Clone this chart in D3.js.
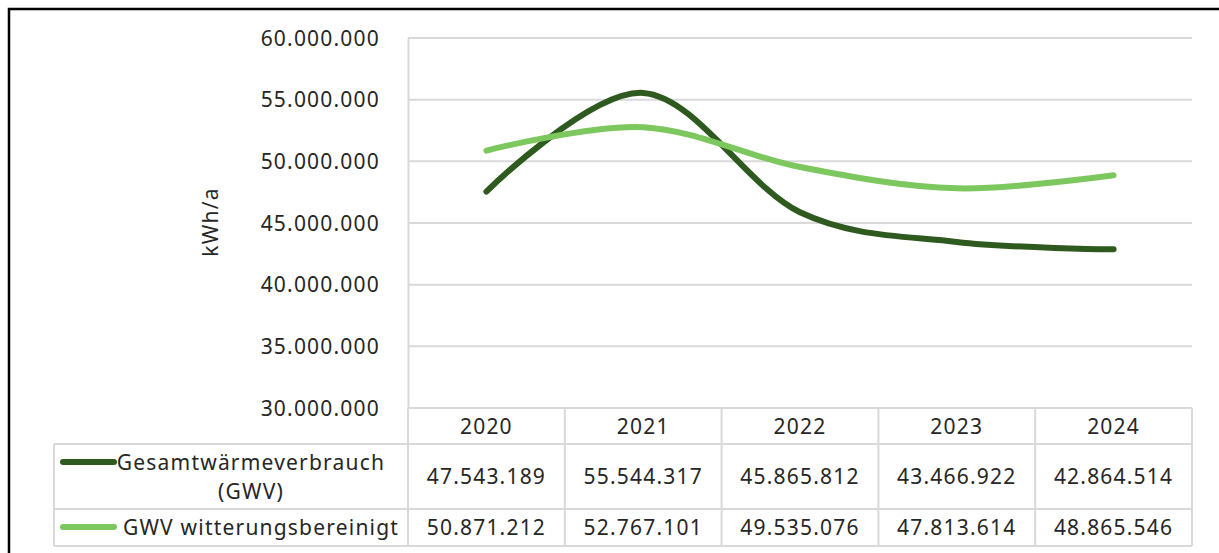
<!DOCTYPE html>
<html>
<head>
<meta charset="utf-8">
<script src="https://cdn.jsdelivr.net/npm/d3@7"></script>
<style>
  body { margin: 0; background: #fff; }
  text { font-family: 'Noto Sans', sans-serif; fill: #262626; }
</style>
</head>
<body>
<div id="chart"></div>
<script>
// data
var years = ['2020', '2021', '2022', '2023', '2024'];
var gwv = [47543189, 55544317, 45865812, 43466922, 42864514];
var gwvBereinigt = [50871212, 52767101, 49535076, 47813614, 48865546];
var seriesNames = [['Gesamtwärmeverbrauch', '(GWV)'], ['GWV witterungsbereinigt']];
var yTicks = [30000000, 35000000, 40000000, 45000000, 50000000, 55000000, 60000000];

var svgWidth = 1219;
var svgHeight = 553;

// plot area
var plot = { left: 408, right: 1192, top: 38, bottom: 408 };
// table rows
var rowTops = [408, 444, 509, 546];
var tableLeft = 54;

var colors = ['#2f5a1f', '#7dc85e'];
var gridColor = '#d9d9d9';

var de = d3.formatLocale({ decimal: ',', thousands: '.', grouping: [3], currency: ['', '€'] });
var fmt = de.format(',.0f');

var svg = d3.select('#chart')
    .append('svg')
    .attr('width', svgWidth)
    .attr('height', svgHeight);

// outer frame
svg.append('rect')
    .attr('x', 9).attr('y', 9)
    .attr('width', 1240).attr('height', 580)
    .attr('fill', 'none')
    .attr('stroke', '#000')
    .attr('stroke-width', 2.5);

var x = d3.scaleBand()
    .domain(years)
    .range([plot.left, plot.right])
    .padding(0);

var y = d3.scaleLinear()
    .domain([30000000, 60000000])
    .range([plot.bottom, plot.top]);

// gridlines
svg.append('g')
    .selectAll('line')
    .data(yTicks)
    .enter()
    .append('line')
    .attr('x1', plot.left)
    .attr('x2', plot.right)
    .attr('y1', d => y(d))
    .attr('y2', d => y(d))
    .attr('stroke', gridColor)
    .attr('stroke-width', 2);

// y axis labels
var yAxis = d3.axisLeft(y).tickValues(yTicks).tickFormat(fmt).tickSize(0).tickPadding(28);
var yg = svg.append('g')
    .attr('transform', `translate(${plot.left}, 0)`)
    .call(yAxis);
yg.select('.domain').attr('stroke', gridColor).attr('stroke-width', 2);
yg.selectAll('text')
    .attr('font-size', 21)
    .attr('letter-spacing', 1.2)
    .attr('fill', '#262626')
    .attr('dy', '0.34em');

// y axis title
svg.append('text')
    .attr('transform', 'translate(218, 222) rotate(-90)')
    .attr('text-anchor', 'middle')
    .attr('font-size', 21)
    .attr('letter-spacing', 1.2)
    .text('kWh/a');

// table grid
var tg = svg.append('g').attr('stroke', gridColor).attr('stroke-width', 2).attr('fill', 'none');
// horizontal lines
tg.append('line').attr('x1', plot.left).attr('x2', plot.right).attr('y1', rowTops[0]).attr('y2', rowTops[0]);
rowTops.slice(1).forEach(r => {
    tg.append('line').attr('x1', tableLeft).attr('x2', plot.right).attr('y1', r).attr('y2', r);
});
// vertical lines
tg.append('line').attr('x1', tableLeft).attr('x2', tableLeft).attr('y1', rowTops[1]).attr('y2', rowTops[3]);
years.forEach(yr => {
    tg.append('line').attr('x1', x(yr)).attr('x2', x(yr)).attr('y1', rowTops[0]).attr('y2', rowTops[3]);
});
tg.append('line').attr('x1', plot.right).attr('x2', plot.right).attr('y1', rowTops[0]).attr('y2', rowTops[3]);

// header: years
svg.append('g')
    .selectAll('text')
    .data(years)
    .enter()
    .append('text')
    .attr('x', d => x(d) + x.bandwidth() / 2)
    .attr('y', (rowTops[0] + rowTops[1]) / 2)
    .attr('dy', '0.36em')
    .attr('text-anchor', 'middle')
    .attr('font-size', 21)
    .attr('letter-spacing', 1.2)
    .text(d => d);

// rows with values
[gwv, gwvBereinigt].forEach((vals, i) => {
    var cy = (rowTops[i + 1] + rowTops[i + 2]) / 2;
    svg.append('g')
        .selectAll('text')
        .data(vals)
        .enter()
        .append('text')
        .attr('x', (d, j) => x(years[j]) + x.bandwidth() / 2)
        .attr('y', cy)
        .attr('dy', '0.36em')
        .attr('text-anchor', 'middle')
        .attr('font-size', 21)
        .attr('letter-spacing', 1.2)
        .text(d => fmt(d));
});

// row labels with legend keys
var keyY = [462, 527];
var labelCenter = [251, 261];
seriesNames.forEach((lines, i) => {
    svg.append('line')
        .attr('x1', 63).attr('x2', 114)
        .attr('y1', keyY[i]).attr('y2', keyY[i])
        .attr('stroke', colors[i])
        .attr('stroke-width', 6)
        .attr('stroke-linecap', 'round');
    lines.forEach((t, k) => {
        svg.append('text')
            .attr('x', labelCenter[i])
            .attr('y', keyY[i] + k * 29)
            .attr('dy', '0.36em')
            .attr('text-anchor', 'middle')
            .attr('font-size', 21)
            .attr('letter-spacing', 1.2)
            .text(t);
    });
});

// smoothed lines
var line = d3.line()
    .x((d, j) => x(years[j]) + x.bandwidth() / 2)
    .y(d => y(d))
    .curve(d3.curveCardinal.tension(0));

[gwv, gwvBereinigt].forEach((vals, i) => {
    svg.append('path')
        .datum(vals)
        .attr('d', line)
        .attr('fill', 'none')
        .attr('stroke', colors[i])
        .attr('stroke-width', 6)
        .attr('stroke-linecap', 'round')
        .attr('stroke-linejoin', 'round');
});
</script>
</body>
</html>
